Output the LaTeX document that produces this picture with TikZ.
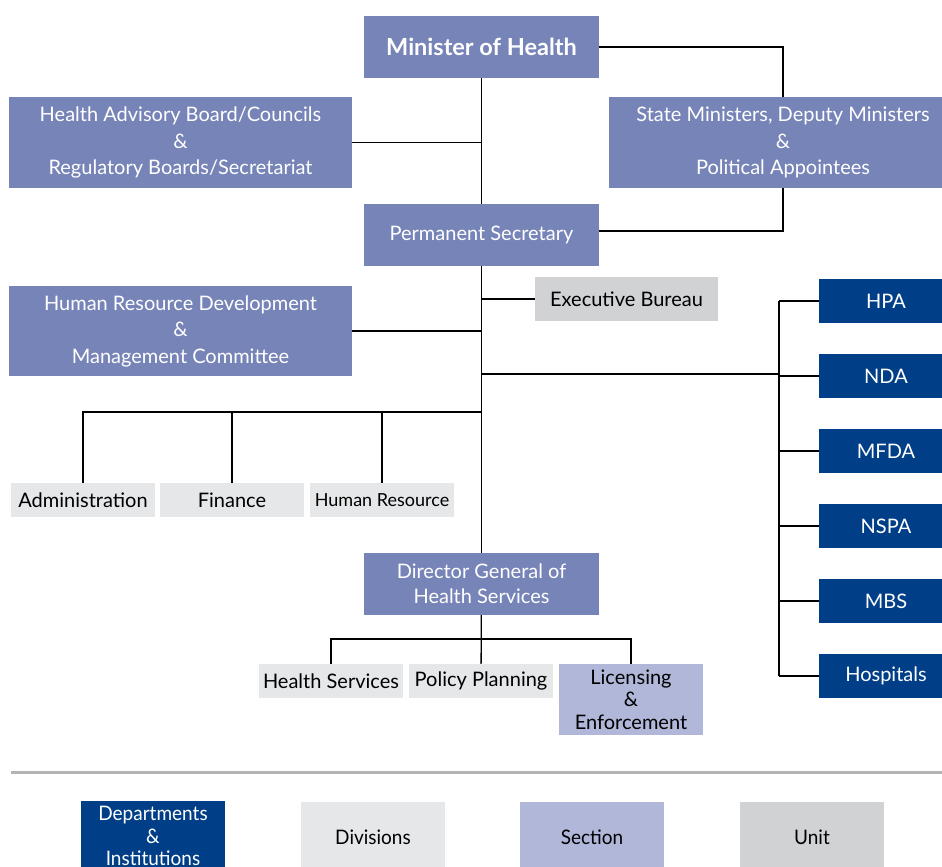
\documentclass[tikz,border=0pt]{standalone}
\usepackage{fontspec}
\setmainfont{Lato}
\newfontfamily\condfont[FakeStretch=0.95]{Lato}
\definecolor{midblue}{HTML}{7784B8}
\definecolor{deptblue}{HTML}{003F87}
\definecolor{divgray}{HTML}{E6E7E9}
\definecolor{seclilac}{HTML}{B0B7D8}
\definecolor{unitgray}{HTML}{D1D2D4}
\definecolor{rulegray}{HTML}{B3B4B6}
\tikzset{
  orgbox/.style={inner sep=0pt,align=center,font=\fontsize{20}{26.5}\selectfont},
  mainbox/.style={orgbox,fill=midblue,text=white},
  deptbox/.style={orgbox,fill=deptblue,text=white,minimum width=134,minimum height=44},
  divbox/.style={orgbox,fill=divgray,text=black,minimum width=144,minimum height=34},
  secbox/.style={orgbox,fill=seclilac,text=black,minimum width=144},
  unitbox/.style={orgbox,fill=unitgray,text=black},
  link/.style={black,line width=1.3pt},
}
\begin{document}
\begin{tikzpicture}[x=1pt,y=-1pt]
		\clip (0,0) rectangle (942,867);
		\useasboundingbox (0,0) rectangle (942,867);
		% top level
		\node[mainbox,minimum width=235,minimum height=62,font=\fontsize{23.5}{26}\selectfont\bfseries] (minister) at (481.5,47) {Minister of Health};
		\node[mainbox,minimum width=343,minimum height=91] (advisory) at (180.5,142.5) {Health Advisory Board/Councils\\\&\\Regulatory Boards/Secretariat};
		\node[mainbox,minimum width=348,minimum height=91] (state) at (783,142.5) {State Ministers, Deputy Ministers\\\&\\Political Appointees};
		\node[mainbox,minimum width=235,minimum height=62] (permsec) at (481.5,235) {Permanent Secretary};
		\node[unitbox,minimum width=183,minimum height=44] (exec) at (626.5,299) {Executive Bureau};
		\node[mainbox,minimum width=343,minimum height=90] (hrd) at (180.5,331) {Human Resource Development\\\&\\Management Committee};
		% divisions under the secretary
		\node[divbox] (admin) at (83,500) {Administration};
		\node[divbox] (finance) at (232,500) {Finance};
		\node[divbox,font=\fontsize{18}{20}\selectfont] (hres) at (382,500) {Human Resource};
		\node[mainbox,minimum width=235,minimum height=62,font=\fontsize{20}{25}\selectfont] (dg) at (481.5,584) {Director General of\\Health Services};
		\node[divbox] (hserv) at (331,681) {Health Services};
		\node[divbox] (policy) at (481,681) {Policy Planning};
		\node[secbox,minimum height=71,font=\fontsize{20}{22.5}\selectfont] (licence) at (631,699.5) {Licensing\\\&\\Enforcement};
		% institutions
		\node[deptbox] (hpa) at (886,301) {HPA};
		\node[deptbox] (nda) at (886,376) {NDA};
		\node[deptbox] (mfda) at (886,451) {MFDA};
		\node[deptbox] (nspa) at (886,526) {NSPA};
		\node[deptbox] (mbs) at (886,601) {MBS};
		\node[deptbox] (hosp) at (886,676) {Hospitals};
		\coordinate (busr) at (779,374);
		\coordinate (busl) at (481.5,412);
		\coordinate (busd) at (481.5,639);

		\draw[link] (minister) -- (permsec);
		\draw[link] (permsec) -- (dg);
		\draw[link] (minister.east) -| (state.north);
		\draw[link] (state.south) |- ([yshift=4]permsec.east);
		\draw[link] (advisory) -- (advisory -| minister);
		\draw[link] (exec) -- (exec -| permsec);
		\draw[link] (hrd) -- (hrd -| permsec);
		\draw[link] (busr) -- (busr -| permsec);
		\draw[link] (hpa -| busr) -- (hosp -| busr);
		\foreach \n in {hpa,nda,mfda,nspa,mbs,hosp}
			\draw[link] (\n) -- (\n -| busr);
		\draw[link] (admin.north) |- (busl);
		\draw[link] (finance) -- (finance |- busl);
		\draw[link] (hres) -- (hres |- busl);
		\draw[link] (hserv.north) |- (busd) -| (licence.north);
		\draw[link] (policy) -- (dg);

		% legend
		\draw[rulegray,line width=3pt] (11,772) -- (942,772);
		\node[deptbox,minimum width=144,minimum height=70,font=\fontsize{20}{22.5}\selectfont\condfont] (legdept) at (153,836) {Departments\\\&\\Institutions};
		\node[divbox,minimum height=70,font=\fontsize{20}{22}\selectfont\condfont] (legdiv) at (373,837) {Divisions};
		\node[secbox,minimum height=70,font=\fontsize{20}{22}\selectfont\condfont] (legsec) at (592,837) {Section};
		\node[unitbox,minimum width=144,minimum height=70,font=\fontsize{20}{22}\selectfont\condfont] (legunit) at (812,837) {Unit};
	\end{tikzpicture}
\end{document}
